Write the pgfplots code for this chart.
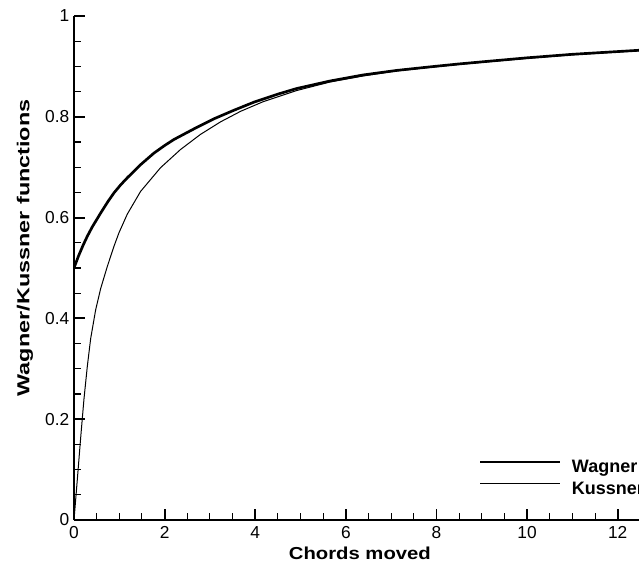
\documentclass[border=0pt]{standalone}
\usepackage{fontspec}
\setmainfont{Liberation Sans}
\usepackage{graphicx}
\usepackage{pgfplots}
\pgfplotsset{compat=1.18}

\begin{document}
\begin{tikzpicture}
\begin{axis}[
  scale only axis,
  width=423.75pt, height=378pt,
  xmin=0, xmax=12.47, ymin=0, ymax=1,
  axis x line=bottom, axis y line=left,
  axis line style={line width=1.5pt, -},
  tick align=inside,
  xtick={0,2,4,6,8,10,12},
  ytick={0,0.2,0.4,0.6,0.8,1},
  minor x tick num=3, minor y tick num=3,
  major tick length=8.5pt, minor tick length=5pt,
  every major tick/.append style={line width=1.4pt, black},
  every minor tick/.append style={line width=0.8pt, black},
  /pgf/number format/assume math mode=true,
  tick label style={font=\fontsize{13}{15}\selectfont},
  xticklabel style={yshift=-1.5pt},
  every axis x label/.style={at={(axis description cs:0.506,0)}, anchor=center, yshift=-24.75pt},
  every axis y label/.style={at={(axis description cs:0,0.54)}, anchor=center, xshift=-36.75pt, rotate=90},
  xlabel={\scalebox{1.17}[1]{\fontsize{13}{15}\selectfont\bfseries Chords moved}},
  ylabel={\scalebox{1.35}[1]{\fontsize{13}{15}\selectfont\bfseries Wagner/Kussner functions}},
  legend style={draw=none, fill=none, at={(axis cs:8.93,0.0813)}, anchor=west,
    inner sep=0pt, row sep=4.3pt, column sep=7.8pt,
    nodes={inner sep=0pt, text height=9.6pt, text depth=2.4pt},
    font=\fontsize{13.5}{15}\selectfont\bfseries},
  legend cell align=left,
  legend image code/.code={\draw[#1] (0pt,4.5pt) -- (60pt,4.5pt);},
]
% Wagner function
\addplot[black, line width=2pt, line join=round] coordinates {
  (0,0.500) (0.1,0.524) (0.2,0.545) (0.294,0.563) (0.4,0.581) (0.588,0.609)
  (0.75,0.632) (0.882,0.649) (1.03,0.665) (1.177,0.679) (1.47,0.705)
  (1.765,0.728) (2.0,0.743) (2.206,0.755) (2.647,0.776) (3.088,0.796)
  (3.53,0.813) (3.97,0.829) (4.5,0.845) (4.91,0.856) (5.65,0.871)
  (6.38,0.883) (7.12,0.892) (7.85,0.899) (8.51,0.905) (9.25,0.911)
  (10,0.917) (11,0.924) (12.47,0.932)
};
\addlegendentry{Wagner}
% Kussner function
\addplot[black, line width=0.75pt, line join=round] coordinates {
  (0,0) (0.073,0.08) (0.147,0.163) (0.22,0.24) (0.294,0.305) (0.368,0.36)
  (0.478,0.417) (0.588,0.459) (0.735,0.503) (0.882,0.543) (0.993,0.570)
  (1.177,0.607) (1.47,0.652) (1.91,0.699) (2.35,0.735) (2.79,0.765)
  (3.235,0.790) (3.68,0.811) (4.176,0.830) (4.91,0.852) (5.65,0.869)
  (6.38,0.881) (7.12,0.891) (7.85,0.898) (8.51,0.904) (9.25,0.910)
  (10,0.916) (11,0.923) (12.47,0.931)
};
\addlegendentry{Kussner}
\coordinate (bl) at (rel axis cs:0,0);
\coordinate (tr) at (rel axis cs:1,1);
\end{axis}
\pgfresetboundingbox
\path[use as bounding box] ([xshift=-55.5pt,yshift=-36pt]bl) rectangle ([yshift=12pt]tr);
\end{tikzpicture}
\end{document}
